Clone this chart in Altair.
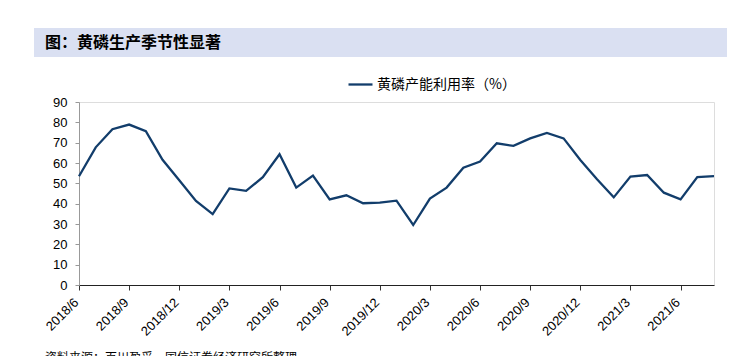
import altair as alt
import pandas as pd

months = [
    "2018/6", "2018/7", "2018/8", "2018/9", "2018/10", "2018/11", "2018/12",
    "2019/1", "2019/2", "2019/3", "2019/4", "2019/5", "2019/6", "2019/7", "2019/8",
    "2019/9", "2019/10", "2019/11", "2019/12",
    "2020/1", "2020/2", "2020/3", "2020/4", "2020/5", "2020/6", "2020/7", "2020/8",
    "2020/9", "2020/10", "2020/11", "2020/12",
    "2021/1", "2021/2", "2021/3", "2021/4", "2021/5", "2021/6", "2021/7", "2021/8",
]
utilization = [
    53.5, 67.7, 76.6, 78.9, 75.6, 61.6, 51.5,
    41.3, 34.9, 47.5, 46.3, 53.0, 64.3, 47.9, 53.8,
    42.1, 44.1, 40.2, 40.5,
    41.5, 29.5, 42.5, 47.9, 57.7, 60.7, 69.7, 68.4,
    72.1, 74.8, 72.1, 61.5,
    52.0, 43.1, 53.3, 54.1, 45.4, 42.1, 53.1, 53.5,
]
series_name = "黄磷产能利用率（%）"
tick_months = months[::3]
y_ticks = list(range(0, 100, 10))
title_text = "图：黄磷生产季节性显著"
source_text = "资料来源：百川盈孚，国信证券经济研究所整理"

df = pd.DataFrame({"month": months, "value": utilization, "series": series_name})
one = pd.DataFrame({"a": [0]})

W, H = 635, 183
LATIN = "Liberation Sans"
CJK = "Noto Sans CJK SC"
LINE_COLOR = "#123d6b"

line = alt.Chart(df).mark_line(strokeWidth=2.3).encode(
    x=alt.X(
        "month:O",
        sort=months,
        scale=alt.Scale(type="point", padding=0),
        axis=alt.Axis(
            title=None,
            values=tick_months,
            labelAngle=-45,
            labelAlign="right",
            labelBaseline="middle",
            labelFont=LATIN,
            labelFontSize=13,
            labelColor="#000000",
            labelPadding=10,
            labelOffset=-3,
            tickSize=5,
            tickColor="#333333",
            domainColor="#222222",
            domainWidth=1,
        ),
    ),
    y=alt.Y(
        "value:Q",
        scale=alt.Scale(domain=[0, 90], nice=False, zero=True),
        axis=alt.Axis(
            title=None,
            values=y_ticks,
            grid=False,
            labelFont=LATIN,
            labelFontSize=13,
            labelColor="#000000",
            labelPadding=8,
            tickSize=4,
            tickColor="#999999",
            domainColor="#999999",
            domainWidth=1,
        ),
    ),
    color=alt.Color(
        "series:N",
        scale=alt.Scale(range=[LINE_COLOR]),
        legend=alt.Legend(
            title=None,
            orient="none",
            legendX=268,
            legendY=-31,
            symbolType="stroke",
            symbolSize=576,
            symbolStrokeWidth=2.3,
            labelFont=CJK,
            labelFontSize=14,
            labelColor="#000000",
            labelOffset=3,
            padding=0,
        ),
    ),
)

bar = alt.Chart(one).mark_rect(color="#dae0f2").encode(
    x=alt.value(-45), x2=alt.value(656), y=alt.value(-74), y2=alt.value(-45)
)
title = alt.Chart(one).mark_text(
    text=title_text, align="left", baseline="middle", font=CJK,
    fontSize=16, fontWeight="bold", color="#000000"
).encode(x=alt.value(-34), y=alt.value(-59))
source = alt.Chart(one).mark_text(
    text=source_text, align="left", baseline="top", font=CJK,
    fontSize=12, color="#000000"
).encode(x=alt.value(-34), y=alt.value(251))

chart = alt.layer(bar, title, line, source).properties(
    width=W,
    height=H,
    autosize=alt.AutoSizeParams(type="none"),
    padding={"left": 71, "top": 94, "right": 13, "bottom": 71},
).configure_view(stroke=None).configure(background="#ffffff")

chart.save("out.html", embed_options={"renderer": "svg", "actions": False})
